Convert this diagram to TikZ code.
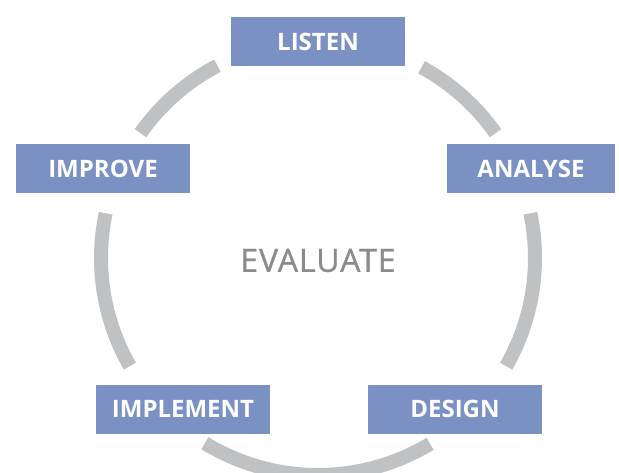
\documentclass[tikz,border=0pt]{standalone}
\usepackage{fontspec}
\setmainfont{Open Sans}
\newfontfamily\middlefont[FakeBold=0.9, LetterSpace=3]{Open Sans}
\definecolor{stepblue}{RGB}{123,145,195}
\definecolor{ringgray}{RGB}{192,193,195}
\definecolor{textgray}{RGB}{138,139,141}
\tikzset{
  stagebox/.style={fill=stepblue, minimum width=174pt, minimum height=49pt,
    inner sep=0pt, text=white, font=\fontsize{24}{24}\selectfont\bfseries},
  ringarc/.style={draw=ringgray, line width=14pt},
}
\begin{document}
\begin{tikzpicture}[x=1pt,y=1pt]
  \useasboundingbox (0,0) rectangle (619,472);
  {
  % Centre of the ring
  \coordinate (c) at (318,214);

  % Marking stage LISTEN
  \node [stagebox] (listen) at (318,430.5) {LISTEN};

  % Marking stage ANALYSE
  \node [stagebox, minimum width=168pt] (analyse) at (531,303) {ANALYSE};

  % Marking stage DESIGN
  \node [stagebox] (design) at (455,63) {DESIGN};

  % Marking stage IMPLEMENT
  \node [stagebox] (implement) at (183,63) {IMPLEMENT};

  % Marking stage IMPROVE
  \node [stagebox] (improve) at (103,303) {IMPROVE};

  % Marking the middle word
  \node [text=textgray, font=\middlefont\fontsize{32}{32}\selectfont] (evaluate) at (318,211.5) {EVALUATE};

  % Drawing the ring pieces between the stages
  \foreach \from/\to in {35.1/61.5, -29.9/11.9, 238.6/301.1, 168.1/209.9, 117.6/144.9}
    \draw [ringarc] ([shift={(\from:217)}]c) arc (\from:\to:217);
  }
\end{tikzpicture}
\end{document}
